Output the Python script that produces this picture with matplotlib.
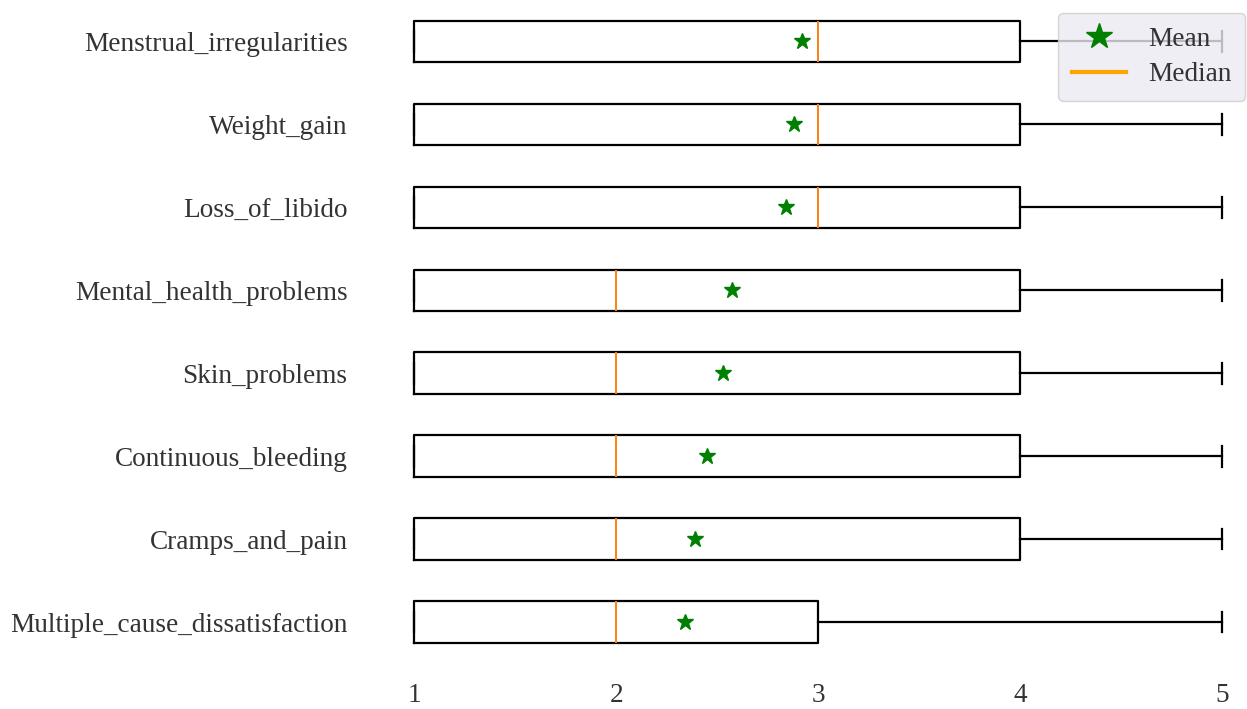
import matplotlib
matplotlib.use("Agg")
import matplotlib.pyplot as plt
from matplotlib.lines import Line2D

plt.rcParams['font.family'] = ['Liberation Serif', 'DejaVu Serif']

# Symptoms, bottom to top as drawn
labels = ['Multiple_cause_dissatisfaction', 'Cramps_and_pain', 'Continuous_bleeding',
          'Skin_problems', 'Mental_health_problems', 'Loss_of_libido',
          'Weight_gain', 'Menstrual_irregularities']
mins = [1, 1, 1, 1, 1, 1, 1, 1]
q1 = [1, 1, 1, 1, 1, 1, 1, 1]
medians = [2, 2, 2, 2, 2, 3, 3, 3]
q3 = [3, 4, 4, 4, 4, 4, 4, 4]
maxs = [5, 5, 5, 5, 5, 5, 5, 5]
means = [2.34, 2.39, 2.45, 2.53, 2.57, 2.84, 2.88, 2.92]

stats = []
for i in range(len(labels)):
    stats.append({'label': labels[i], 'whislo': mins[i], 'q1': q1[i], 'med': medians[i],
                  'q3': q3[i], 'whishi': maxs[i], 'mean': means[i], 'fliers': []})

fig = plt.figure(figsize=(12.47, 7.09), dpi=100)
ax = fig.add_axes([0.2999, 0.0642, 0.7047, 0.9358])

ax.bxp(stats, vert=False, showmeans=True, widths=0.5,
       boxprops=dict(color='black', linewidth=1.6),
       whiskerprops=dict(color='black', linewidth=1.6),
       capprops=dict(color='black', linewidth=1.6),
       medianprops=dict(color='#ff7f0e', linewidth=1.4),
       meanprops=dict(marker='*', markerfacecolor='green', markeredgecolor='green',
                      markersize=12))

ax.set_xlim(0.8, 5.15)
ax.set_ylim(0.5, 8.5)
ax.set_xticks([1, 2, 3, 4, 5])
for s in ax.spines.values():
    s.set_visible(False)
ax.tick_params(axis='both', length=0, labelsize=19.6, colors='0.2')
ax.tick_params(axis='y', pad=19)
ax.tick_params(axis='x', pad=14)

handles = [Line2D([], [], color='green', marker='*', linestyle='none', markersize=19),
           Line2D([], [], color='orange', linewidth=3)]
leg = fig.legend(handles, ['Mean', 'Median'], loc='upper right',
                 bbox_to_anchor=(1245 / 1247, 1 - 13 / 709), bbox_transform=fig.transFigure,
                 borderaxespad=0, fontsize=19.6, facecolor='#eaeaf2', edgecolor='0.8',
                 framealpha=0.8, fancybox=True, labelspacing=0.38, borderpad=0.5)
for t in leg.get_texts():
    t.set_color('0.2')

fig.savefig('out.png', dpi=100)
